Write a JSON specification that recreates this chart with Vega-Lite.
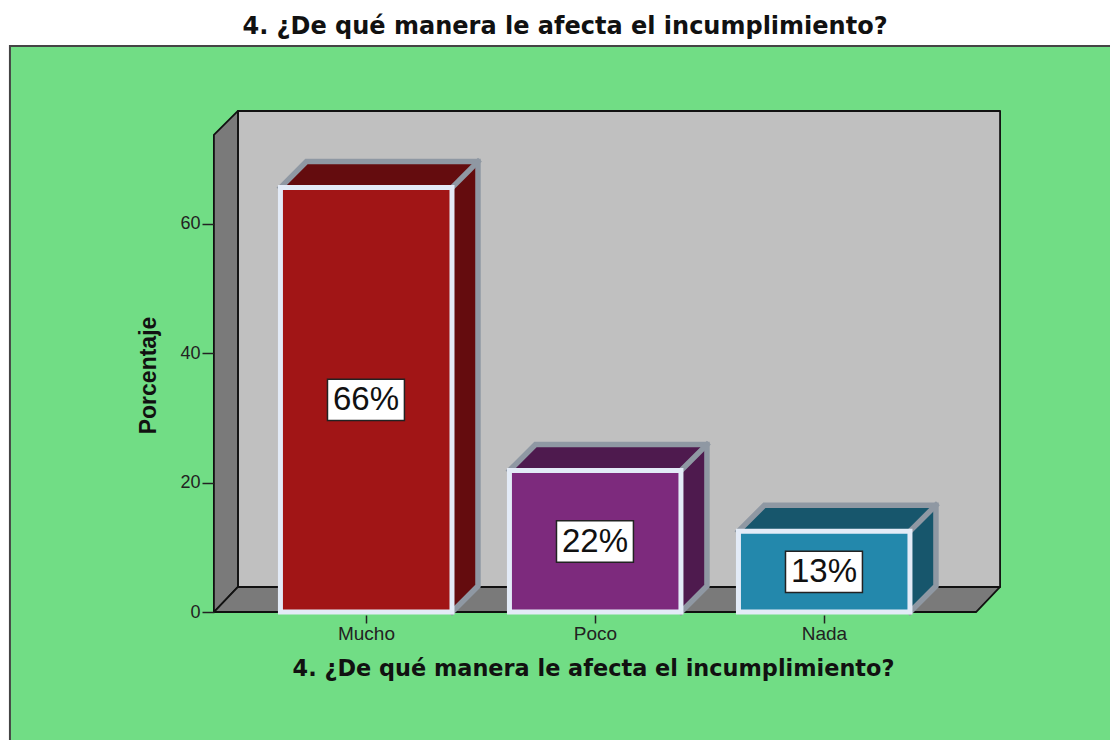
{
"$schema":"https://vega.github.io/schema/vega-lite/v6.json",
"width":1110,"height":740,"padding":0,"autosize":{"type":"none"},
"background":"#ffffff",
"title":{"text":"4. ¿De qué manera le afecta el incumplimiento?","font":"DejaVu Sans","fontWeight":"bold","fontSize":24,"color":"#111111","anchor":"middle","frame":"group","dx":10,"dy":43},
"view":{"stroke":null},
"datasets":{
"fondo":[{"u0":-0.5546,"u1":4.6,"v0":-25,"v1":87.52}],
"caras":[
{"pieza":"pared","n":1,"u":0.441,"v":3.87},{"pieza":"pared","n":2,"u":3.769,"v":3.87},{"pieza":"pared","n":3,"u":3.769,"v":77.47},{"pieza":"pared","n":4,"u":0.441,"v":77.47},{"pieza":"pared","n":5,"u":0.441,"v":3.87},
{"pieza":"lateral","n":1,"u":0.336,"v":0},{"pieza":"lateral","n":2,"u":0.441,"v":3.87},{"pieza":"lateral","n":3,"u":0.441,"v":77.47},{"pieza":"lateral","n":4,"u":0.336,"v":73.76},{"pieza":"lateral","n":5,"u":0.336,"v":0},
{"pieza":"suelo","n":1,"u":0.336,"v":0},{"pieza":"suelo","n":2,"u":3.664,"v":0},{"pieza":"suelo","n":3,"u":3.769,"v":3.87},{"pieza":"suelo","n":4,"u":0.441,"v":3.87},{"pieza":"suelo","n":5,"u":0.336,"v":0}
],
"sombras":[
{"pieza":"Mucho","n":1,"u":0.6266,"v":65.625},{"pieza":"Mucho","n":2,"u":0.7401,"v":69.645},{"pieza":"Mucho","n":3,"u":1.4892,"v":69.645},{"pieza":"Mucho","n":4,"u":1.4892,"v":4.02},{"pieza":"Mucho","n":5,"u":1.3757,"v":0},{"pieza":"Mucho","n":6,"u":1.3757,"v":65.625},
{"pieza":"Poco","n":1,"u":1.6266,"v":21.875},{"pieza":"Poco","n":2,"u":1.7401,"v":25.895},{"pieza":"Poco","n":3,"u":2.489,"v":25.895},{"pieza":"Poco","n":4,"u":2.489,"v":4.02},{"pieza":"Poco","n":5,"u":2.3755,"v":0},{"pieza":"Poco","n":6,"u":2.3755,"v":21.875},
{"pieza":"Nada","n":1,"u":2.6266,"v":12.5},{"pieza":"Nada","n":2,"u":2.7401,"v":16.52},{"pieza":"Nada","n":3,"u":3.489,"v":16.52},{"pieza":"Nada","n":4,"u":3.489,"v":4.02},{"pieza":"Nada","n":5,"u":3.3755,"v":0},{"pieza":"Nada","n":6,"u":3.3755,"v":12.5}
],
"contornos":[
{"trazo":"M1","n":1,"u":0.6266,"v":65.625},{"trazo":"M1","n":2,"u":0.7401,"v":69.645},{"trazo":"M1","n":3,"u":1.4892,"v":69.645},{"trazo":"M1","n":4,"u":1.4892,"v":4.02},{"trazo":"M1","n":5,"u":1.3757,"v":0},
{"trazo":"M2","n":1,"u":1.3757,"v":65.625},{"trazo":"M2","n":2,"u":1.4892,"v":69.645},
{"trazo":"P1","n":1,"u":1.6266,"v":21.875},{"trazo":"P1","n":2,"u":1.7401,"v":25.895},{"trazo":"P1","n":3,"u":2.489,"v":25.895},{"trazo":"P1","n":4,"u":2.489,"v":4.02},{"trazo":"P1","n":5,"u":2.3755,"v":0},
{"trazo":"P2","n":1,"u":2.3755,"v":21.875},{"trazo":"P2","n":2,"u":2.489,"v":25.895},
{"trazo":"N1","n":1,"u":2.6266,"v":12.5},{"trazo":"N1","n":2,"u":2.7401,"v":16.52},{"trazo":"N1","n":3,"u":3.489,"v":16.52},{"trazo":"N1","n":4,"u":3.489,"v":4.02},{"trazo":"N1","n":5,"u":3.3755,"v":0},
{"trazo":"N2","n":1,"u":3.3755,"v":12.5},{"trazo":"N2","n":2,"u":3.489,"v":16.52}
],
"barras":[
{"categoria":"Mucho","u0":0.6266,"u1":1.3757,"porcentaje":65.625,"centro":1,"medio":32.8,"etiqueta":"66%","c0":0.832,"c1":1.168,"m0":29.6,"m1":36},
{"categoria":"Poco","u0":1.6266,"u1":2.3755,"porcentaje":21.875,"centro":2,"medio":10.9,"etiqueta":"22%","c0":1.832,"c1":2.168,"m0":7.7,"m1":14.1},
{"categoria":"Nada","u0":2.6266,"u1":3.3755,"porcentaje":12.5,"centro":3,"medio":6.2,"etiqueta":"13%","c0":2.832,"c1":3.168,"m0":3,"m1":9.4}
]
},
"layer":[
{"data":{"name":"fondo"},"mark":{"type":"rect","fill":"#71dd85","stroke":"#444444","strokeWidth":2},
 "encoding":{
  "x":{"field":"u0","type":"quantitative","scale":{"domain":[-0.598,4.249],"nice":false,"zero":false},
   "axis":{"orient":"bottom","offset":-125,"values":[1,2,3],"grid":false,"domain":false,"tickSize":8,"tickColor":"#222222","tickWidth":1.5,"labelExpr":"datum.value==1?'Mucho':datum.value==2?'Poco':'Nada'","labelFont":"Liberation Sans","labelFontSize":19,"labelColor":"#222222","labelPadding":1,"zindex":1,
    "title":"4. ¿De qué manera le afecta el incumplimiento?","titleFont":"DejaVu Sans","titleFontWeight":"bold","titleFontSize":22.4,"titleColor":"#111111","titleX":593,"titleY":53,"titleBaseline":"middle"}},
  "x2":{"field":"u1"},
  "y":{"field":"v0","type":"quantitative","scale":{"domain":[-19.79,94.63],"nice":false,"zero":false},
   "axis":{"orient":"left","offset":-214,"values":[0,20,40,60],"grid":false,"domain":false,"tickSize":12,"tickColor":"#222222","tickWidth":1.5,"labelFont":"Liberation Sans","labelFontSize":18,"labelColor":"#222222","labelPadding":2,"zindex":1,
    "title":"Porcentaje","titleFont":"Liberation Sans","titleFontWeight":"bold","titleFontSize":23,"titleColor":"#111111","titleAngle":270,"titleX":-66,"titleY":375,"titleBaseline":"middle"}},
  "y2":{"field":"v1"}}},
{"data":{"name":"caras"},"mark":{"type":"line","stroke":"#111111","strokeWidth":1.8,"strokeJoin":"round"},
 "encoding":{
  "x":{"field":"u","type":"quantitative"},
  "y":{"field":"v","type":"quantitative"},
  "order":{"field":"n"},
  "detail":{"field":"pieza"},
  "fill":{"field":"pieza","type":"nominal","legend":null,"scale":{"domain":["pared","lateral","suelo"],"range":["#c0c0c0","#7a7a7a","#7a7a7a"]}}}},
{"data":{"name":"sombras"},"mark":{"type":"line","strokeWidth":0},
 "encoding":{
  "x":{"field":"u","type":"quantitative"},
  "y":{"field":"v","type":"quantitative"},
  "order":{"field":"n"},
  "detail":{"field":"pieza"},
  "fill":{"field":"pieza","type":"nominal","legend":null,"scale":{"domain":["Mucho","Poco","Nada"],"range":["#640c0e","#4e1a4e","#17566c"]}}}},
{"data":{"name":"contornos"},"mark":{"type":"line","stroke":"#8f98a3","strokeWidth":5.5,"strokeCap":"square","strokeJoin":"miter"},
 "encoding":{
  "x":{"field":"u","type":"quantitative"},
  "y":{"field":"v","type":"quantitative"},
  "order":{"field":"n"},
  "detail":{"field":"trazo"}}},
{"data":{"name":"barras"},"mark":{"type":"rect","stroke":"#e3ebf7","strokeWidth":5},
 "encoding":{
  "x":{"field":"u0","type":"quantitative"},
  "x2":{"field":"u1"},
  "y":{"field":"porcentaje","type":"quantitative"},
  "y2":{"datum":0},
  "color":{"field":"categoria","type":"nominal","legend":null,"scale":{"domain":["Mucho","Poco","Nada"],"range":["#a11516","#7d2a7d","#2388ac"]}}}},
{"data":{"name":"barras"},"mark":{"type":"rect","fill":"#ffffff","stroke":"#222222","strokeWidth":1.5},
 "encoding":{
  "x":{"field":"c0","type":"quantitative"},
  "x2":{"field":"c1"},
  "y":{"field":"m0","type":"quantitative"},
  "y2":{"field":"m1"}}},
{"data":{"name":"barras"},"mark":{"type":"text","font":"Liberation Sans","fontSize":33,"color":"#111111","align":"center","baseline":"middle"},
 "encoding":{
  "x":{"field":"centro","type":"quantitative"},
  "y":{"field":"medio","type":"quantitative"},
  "text":{"field":"etiqueta"}}}
],
"resolve":{"scale":{"fill":"independent"}}
}
